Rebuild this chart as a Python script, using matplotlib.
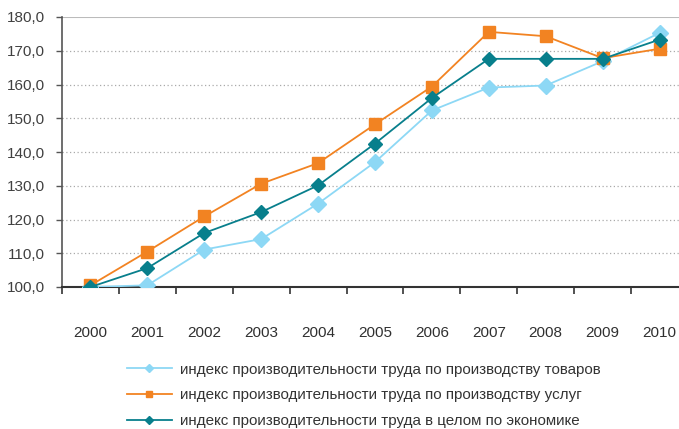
import matplotlib
matplotlib.use('Agg')
import matplotlib.pyplot as plt
import numpy as np

years = ['2000', '2001', '2002', '2003', '2004', '2005', '2006', '2007', '2008', '2009', '2010']
goods = [100.0, 100.5, 111.1, 114.2, 124.7, 137.0, 152.3, 159.1, 159.7, 166.9, 175.3]
services = [100.5, 110.5, 120.9, 130.6, 136.7, 148.2, 159.4, 175.6, 174.3, 167.8, 170.6]
total = [100.0, 105.6, 116.0, 122.2, 130.1, 142.5, 156.0, 167.6, 167.6, 167.6, 173.3]
labels = ['индекс производительности труда по производству товаров',
          'индекс производительности труда по производству услуг',
          'индекс производительности труда в целом по экономике']

plt.rcParams['font.family'] = ['Liberation Sans', 'DejaVu Sans']

fig = plt.figure(figsize=(6.79, 4.29), dpi=100)
ax = fig.add_axes([62/679, 1 - 287/429, 626/679, 270/429])

x = np.arange(len(years))
l1, = ax.plot(x, goods, color='#8dd8f5', marker='D', markersize=8.5, lw=1.3, zorder=3)
l2, = ax.plot(x, services, color='#f28322', marker='s', markersize=8, lw=1.3, zorder=4)
l3, = ax.plot(x, total, color='#087f8c', marker='D', markersize=7.5, lw=1.3, zorder=5)

ax.set_xlim(-0.5, 10.5)
ax.set_ylim(100, 180)
ax.set_yticks(np.arange(100, 181, 10))
ax.set_yticklabels([f'{v},0' for v in range(100, 181, 10)], fontsize=11, color='#404040')
ax.set_xticks(np.arange(-0.5, 11, 1))
ax.set_xticklabels([])
ax.set_xticks(x, minor=True)
ax.set_xticklabels(years, minor=True, fontsize=11, color='#303030')
ax.tick_params(axis='x', which='major', length=5, width=1.2, color='#333333', direction='out')
ax.tick_params(axis='x', which='minor', length=0, pad=28)
ax.tick_params(axis='y', length=4, width=1, color='#555555', pad=8)

for v in range(110, 180, 10):
    ax.axhline(v, color='#aaaaaa', lw=0.9, ls=(0, (1, 2)), zorder=1)
ax.axhline(180, color='#bbbbbb', lw=1.5, zorder=1)

ax.spines['top'].set_visible(False)
ax.spines['right'].set_visible(False)
ax.spines['left'].set_color('#555555')
ax.spines['left'].set_linewidth(1.2)
ax.spines['bottom'].set_color('#333333')
ax.spines['bottom'].set_linewidth(1.5)

fig.legend([l1, l2, l3], labels, loc='upper left', bbox_to_anchor=(113/679, 1 - 349/429),
           frameon=False, fontsize=10.9, handlelength=3.0, handletextpad=0.5,
           labelspacing=0.78, markerscale=0.5, labelcolor='#333333')

plt.savefig('out.png', dpi=100)
